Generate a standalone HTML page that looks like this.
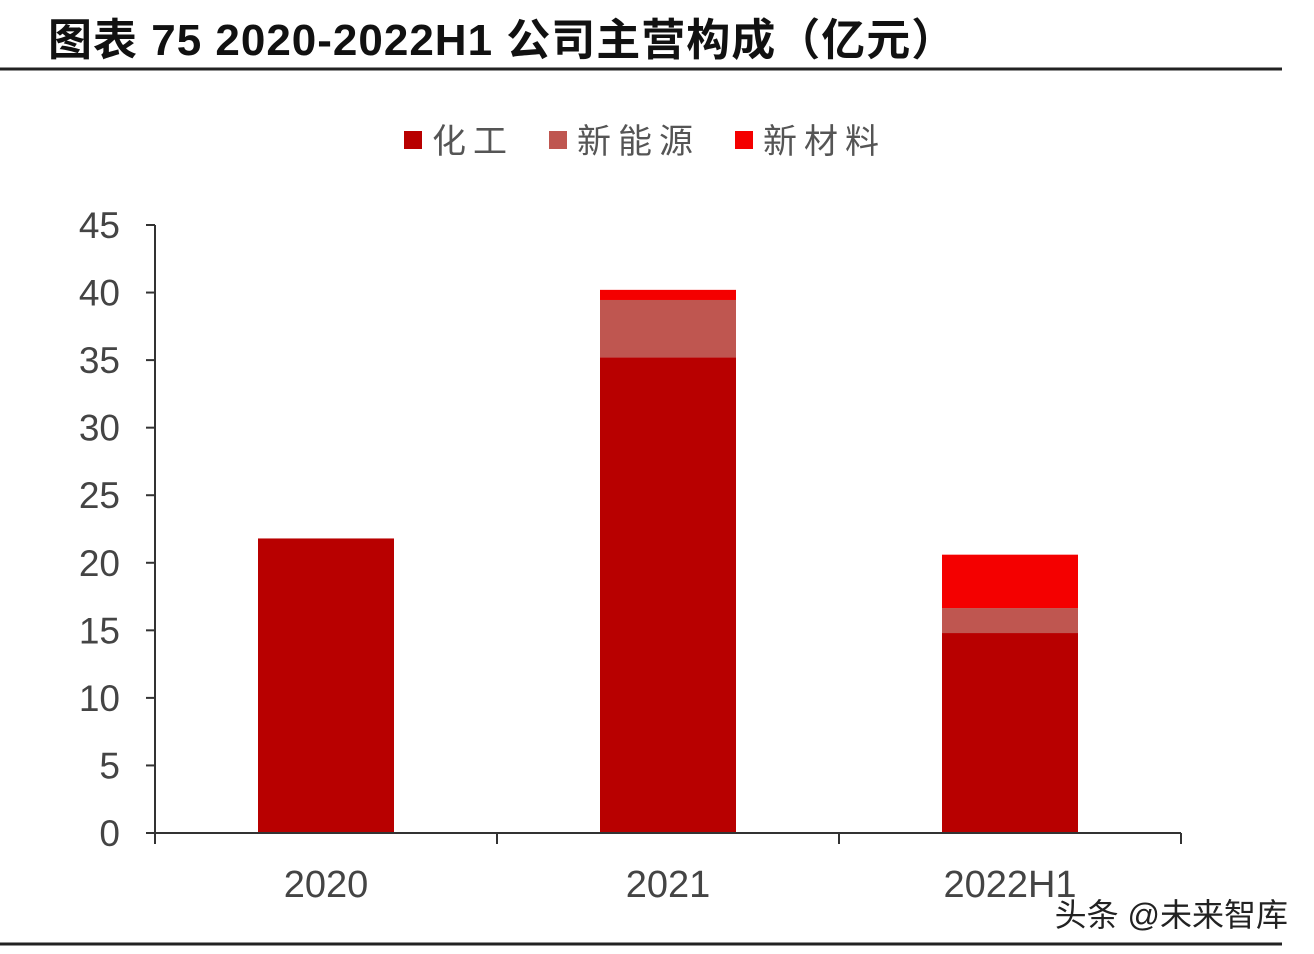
<!DOCTYPE html>
<html><head><meta charset="utf-8"><style>
body{margin:0;background:#fff;width:1314px;height:954px;overflow:hidden;position:relative;font-family:"Liberation Sans","Noto Sans CJK SC",sans-serif}
#title{position:absolute;left:48px;top:4px;font-size:44px;font-weight:bold;color:#111;letter-spacing:1px;white-space:nowrap}
#wm{position:absolute;right:26px;top:890px;font-size:32px;color:#222;text-shadow:0 0 3px #fff}
</style></head><body>
<div id="title">图表 75 2020-2022H1 公司主营构成（亿元）</div>
<svg id="chart" width="1314" height="954" style="position:absolute;left:0;top:0">
<line x1="0" y1="69" x2="1282" y2="69" stroke="#222" stroke-width="3"/>
<line x1="0" y1="944" x2="1282" y2="944" stroke="#222" stroke-width="3"/>
<g id="legend"></g><g id="bars"></g><g id="axes"></g>
</svg>
<div id="wm">头条 @未来智库</div>
<script>
const categories=["2020","2021","2022H1"];
const seriesNames=["化工","新能源","新材料"];
const chemical=[21.8,35.2,14.8];
const newEnergy=[0,4.25,1.85];
const newMaterial=[0,0.75,3.95];
const yTicks=[0,5,10,15,20,25,30,35,40,45];
const colors=["#b80000","#bf5650","#f40000"];
const NS="http://www.w3.org/2000/svg";
const x0=155,x1=1181,yBase=833,yTop=225,yMax=45;
const y=v=>yBase-(v/yMax)*(yBase-yTop);
const band=(x1-x0)/categories.length;
const xc=i=>x0+band*(i+0.5);
function mk(tag,attrs,parent){const e=document.createElementNS(NS,tag);for(const k in attrs)e.setAttribute(k,attrs[k]);parent.appendChild(e);return e;}
const bars=document.getElementById('bars'),axes=document.getElementById('axes'),legend=document.getElementById('legend');
const series=[chemical,newEnergy,newMaterial];
categories.forEach((c,i)=>{let acc=0;series.forEach((s,j)=>{const v=s[i];if(v>0){const r=mk('rect',{x:xc(i)-68,y:y(acc+v),width:136,height:y(acc)-y(acc+v),fill:colors[j]},bars);

}acc+=v;});
const t=mk('text',{x:xc(i),y:897,'text-anchor':'middle','font-size':38,fill:'#444'},axes);t.textContent=c;

});
const ya=mk('line',{x1:x0,y1:yTop,x2:x0,y2:yBase,stroke:'#333','stroke-width':2},axes);


const xa=mk('line',{x1:x0,y1:yBase,x2:x1,y2:yBase,stroke:'#333','stroke-width':2},axes);


for(let k=0;k<=categories.length;k++){const tx=mk('line',{x1:x0+band*k,y1:yBase,x2:x0+band*k,y2:yBase+11,stroke:'#333','stroke-width':2},axes);

}
yTicks.forEach(v=>{const tl=mk('line',{x1:x0-9,y1:y(v),x2:x0,y2:y(v),stroke:'#333','stroke-width':2},axes);


const t=mk('text',{x:120,y:y(v)+13,'text-anchor':'end','font-size':37,fill:'#444'},axes);t.textContent=v;

});
const lx=[404,549,735];
seriesNames.forEach((n,j)=>{const r=mk('rect',{x:lx[j],y:131,width:18,height:18,fill:colors[j]},legend);


const t=mk('text',{x:lx[j]+28,y:153,'font-size':34,fill:'#555','letter-spacing':7},legend);t.textContent=n;

});
</script>
</body></html>
